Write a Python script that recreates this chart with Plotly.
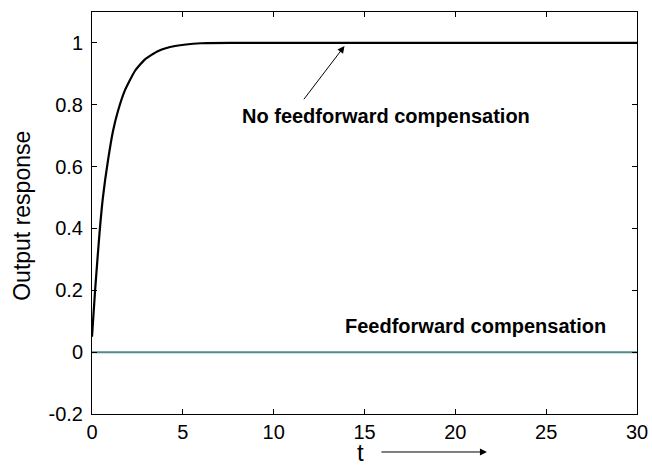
import plotly.graph_objects as go

# Data
t_nofb = [0, 0.17, 0.42, 0.6, 0.88, 1.16, 1.43, 1.8, 2.37, 2.92, 3.65, 4.57, 6.0, 8.0, 12.0, 30.0]
y_nofb = [0.05, 0.2, 0.39, 0.50, 0.62, 0.716, 0.78, 0.845, 0.91, 0.947, 0.974, 0.99, 0.999, 1.0, 1.0, 1.0]
t_fb = [0, 30]
y_fb = [0, 0]

x_ticks = [0, 5, 10, 15, 20, 25, 30]
y_ticks = [-0.2, 0, 0.2, 0.4, 0.6, 0.8, 1.0]
y_tick_labels = ["-0.2", "0", "0.2", "0.4", "0.6", "0.8", "1"]

FONT = "Liberation Sans, Arial, sans-serif"

fig = go.Figure()
fig.add_trace(go.Scatter(x=t_fb, y=y_fb, mode="lines",
                         line=dict(color="#4b8d8d", width=2), showlegend=False))
fig.add_trace(go.Scatter(x=t_nofb, y=y_nofb, mode="lines",
                         line=dict(color="black", width=2.2, shape="spline", smoothing=0.5),
                         showlegend=False))

axis_common = dict(showline=True, linecolor="black", linewidth=1, mirror="ticks",
                   ticks="inside", ticklen=5, tickcolor="black", showgrid=False,
                   zeroline=False, automargin=False,
                   tickfont=dict(family=FONT, size=20, color="black"))

fig.update_xaxes(range=[0, 30], tickvals=x_ticks, **axis_common)
fig.update_yaxes(range=[-0.2, 1.1], tickvals=y_ticks, ticktext=y_tick_labels,
                 ticklabelstandoff=4, **axis_common)

fig.update_layout(
    width=652, height=465,
    margin=dict(l=92, r=15, t=12, b=51),
    paper_bgcolor="white", plot_bgcolor="white",
    font=dict(family=FONT, color="black"),
    annotations=[
        dict(text="<b>No feedforward compensation</b>", x=16.2, y=0.765, xref="x", yref="y",
             xanchor="center", yanchor="middle",
             showarrow=False, font=dict(size=20, family=FONT)),
        dict(text="", x=13.9, y=0.99, xref="x", yref="y", ax=11.6, ay=0.813,
             axref="x", ayref="y", showarrow=True, arrowhead=2, arrowsize=1.4,
             arrowwidth=1, arrowcolor="black"),
        dict(text="<b>Feedforward compensation</b>", x=21.1, y=0.084, xref="x", yref="y",
             xanchor="center", yanchor="middle",
             showarrow=False, font=dict(size=20, family=FONT)),
        dict(text="t", x=14.8, y=-0.097, xref="x", yref="paper", showarrow=False,
             xanchor="center", yanchor="middle",
             font=dict(size=24, family=FONT)),
        dict(text="", x=21.74, y=-0.0945, xref="x", yref="paper", ax=-107, ay=0,
             showarrow=True, arrowhead=2, arrowsize=1.4, arrowwidth=1, arrowcolor="black"),
        dict(text="Output response", x=-0.1285, y=0.493, xref="paper", yref="paper",
             xanchor="center", yanchor="middle",
             textangle=-90, showarrow=False, font=dict(size=23, family=FONT)),
    ],
)

fig.write_html("out.html")
